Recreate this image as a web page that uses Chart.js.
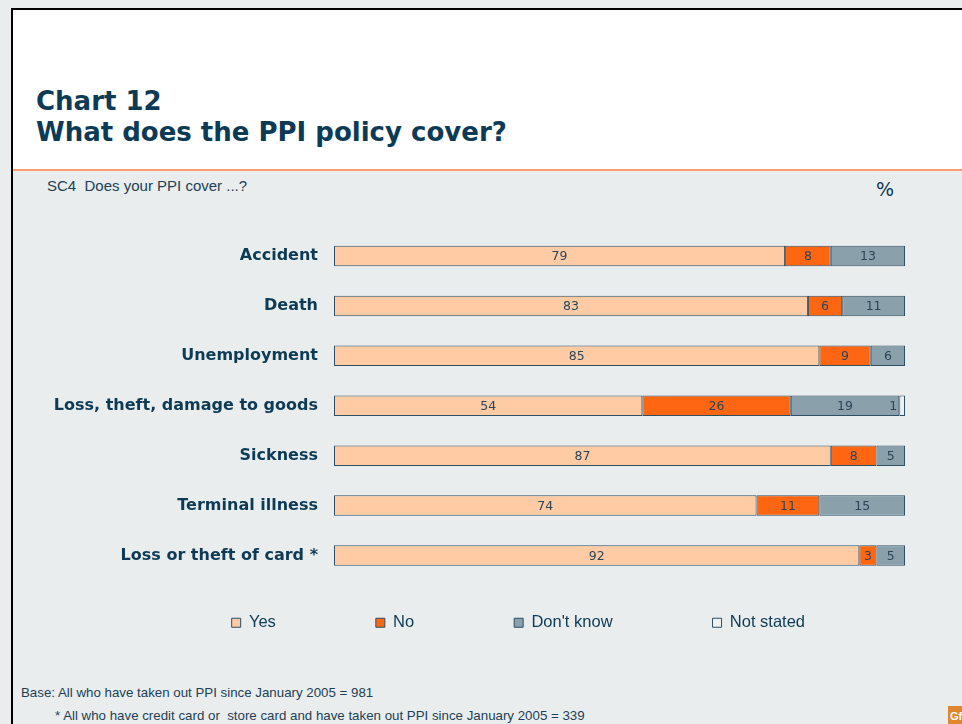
<!DOCTYPE html>
<html>
<head>
<meta charset="utf-8">
<script src="https://cdn.jsdelivr.net/npm/chart.js@4.4.0/dist/chart.umd.min.js"></script>
<style>
  html, body { margin: 0; padding: 0; }
  body {
    width: 962px; height: 724px; position: relative; overflow: hidden;
    background: #e9edee; font-family: 'Liberation Sans', Arial, sans-serif; color: #0d3a55;
  }
  .head { position: absolute; left: 11px; top: 8px; right: 0; height: 161px; background: #fff; border-top: 2px solid #000; }
  .frame-left { position: absolute; left: 11px; top: 8px; width: 2px; bottom: 0; background: #000; }
  .rule { position: absolute; left: 13px; right: 0; top: 169px; height: 2px; background: #ff9d6c; }
  .title { position: absolute; left: 36px; top: 86px; font: bold 26px 'DejaVu Sans', sans-serif; line-height: 31px; color: #0d3a55; }
  .question { position: absolute; left: 47px; top: 177px; font-size: 15px; color: #1d3f55; white-space: pre; }
  .pct { position: absolute; left: 876px; top: 178px; font: 19px 'DejaVu Sans', sans-serif; color: #0d3a55; }
  .base { position: absolute; left: 21px; font-size: 13.3px; color: #1d3f55; white-space: pre; }
  .logo { position: absolute; left: 948px; top: 706px; width: 14px; height: 18px; background: #e0862e; overflow: hidden;
          color: #fff; font: bold 11px 'Liberation Sans', sans-serif; line-height: 20px; padding-left: 2px; box-sizing: border-box; }
  #chart { position: absolute; left: 0; top: 171px; }
</style>
</head>
<body>
<div class="head"></div>
<div class="frame-left"></div>
<div class="rule"></div>
<div class="title">Chart 12<br>What does the PPI policy cover?</div>
<div class="question">SC4  Does your PPI cover ...?</div>
<div class="pct">%</div>
<canvas id="chart" width="962" height="470"></canvas>
<div class="base" style="top:685px">Base: All who have taken out PPI since January 2005 = 981</div>
<div class="base" style="top:708px; left:55px">* All who have credit card or  store card and have taken out PPI since January 2005 = 339</div>
<div class="logo">GfK</div>
<script>
const categories = ['Accident', 'Death', 'Unemployment', 'Loss, theft, damage to goods', 'Sickness', 'Terminal illness', 'Loss or theft of card *'];
const seriesNames = ['Yes', 'No', "Don't know", 'Not stated'];
const yesValues = [79, 83, 85, 54, 87, 74, 92];
const noValues = [8, 6, 9, 26, 8, 11, 3];
const dontKnowValues = [13, 11, 6, 19, 5, 15, 5];
const notStatedValues = [0, 0, 0, 1, 0, 0, 0];
const seriesColors = ['#ffcba4', '#ff6611', '#8aa0aa', '#eef1f2'];

const navy = '#0d3a55';
const outline = '#2f4f63';

// value labels centred in each segment; slivers get theirs just to the left
const segmentLabels = {
  id: 'segmentLabels',
  afterDatasetsDraw(chart) {
    const ctx = chart.ctx;
    ctx.save();
    ctx.font = '12.5px "DejaVu Sans", sans-serif';
    ctx.fillStyle = '#2c4658';
    ctx.textBaseline = 'middle';
    chart.data.datasets.forEach((ds, i) => {
      chart.getDatasetMeta(i).data.forEach((bar, j) => {
        const v = ds.data[j];
        if (!v) return;
        const w = Math.abs(bar.x - bar.base);
        if (w < 10) {
          ctx.textAlign = 'right';
          ctx.fillText(v, bar.base - 2, bar.y + 1);
        } else {
          ctx.textAlign = 'center';
          ctx.fillText(v, (bar.x + bar.base) / 2, bar.y + 1);
        }
      });
    });
    ctx.restore();
  }
};

const allSeries = [yesValues, noValues, dontKnowValues, notStatedValues];

new Chart(document.getElementById('chart'), {
  type: 'bar',
  data: {
    labels: categories,
    datasets: allSeries.map((values, i) => ({
      label: seriesNames[i],
      data: values,
      backgroundColor: seriesColors[i],
      borderColor: outline,
      borderWidth: 1,
      borderSkipped: false,
      categoryPercentage: 0.41,
      barPercentage: 1
    }))
  },
  options: {
    indexAxis: 'y',
    responsive: false,
    animation: false,
    layout: { padding: { left: 40, right: 57, top: 60, bottom: 0 } },
    scales: {
      x: { stacked: true, min: 0, max: 100, display: false },
      y: {
        stacked: true,
        grid: { display: false, drawTicks: false },
        border: { display: false },
        ticks: {
          padding: 16,
          color: navy,
          font: { family: 'DejaVu Sans', weight: 'bold', size: 16 }
        },
        afterFit(scale) { scale.width = 294; }
      }
    },
    plugins: {
      tooltip: { enabled: false },
      legend: {
        position: 'bottom',
        align: 'end',
        labels: {
          boxWidth: 9,
          boxHeight: 9,
          padding: 34,
          color: navy,
          font: { family: 'Liberation Sans', size: 16.5 },
          generateLabels(chart) {
            const items = Chart.defaults.plugins.legend.labels.generateLabels(chart);
            // wide, even spacing between entries
            items.forEach(item => { item.text += '\u2003\u2003\u2003\u2003'; });
            return items;
          }
        }
      }
    }
  },
  plugins: [segmentLabels]
});
</script>
</body>
</html>
